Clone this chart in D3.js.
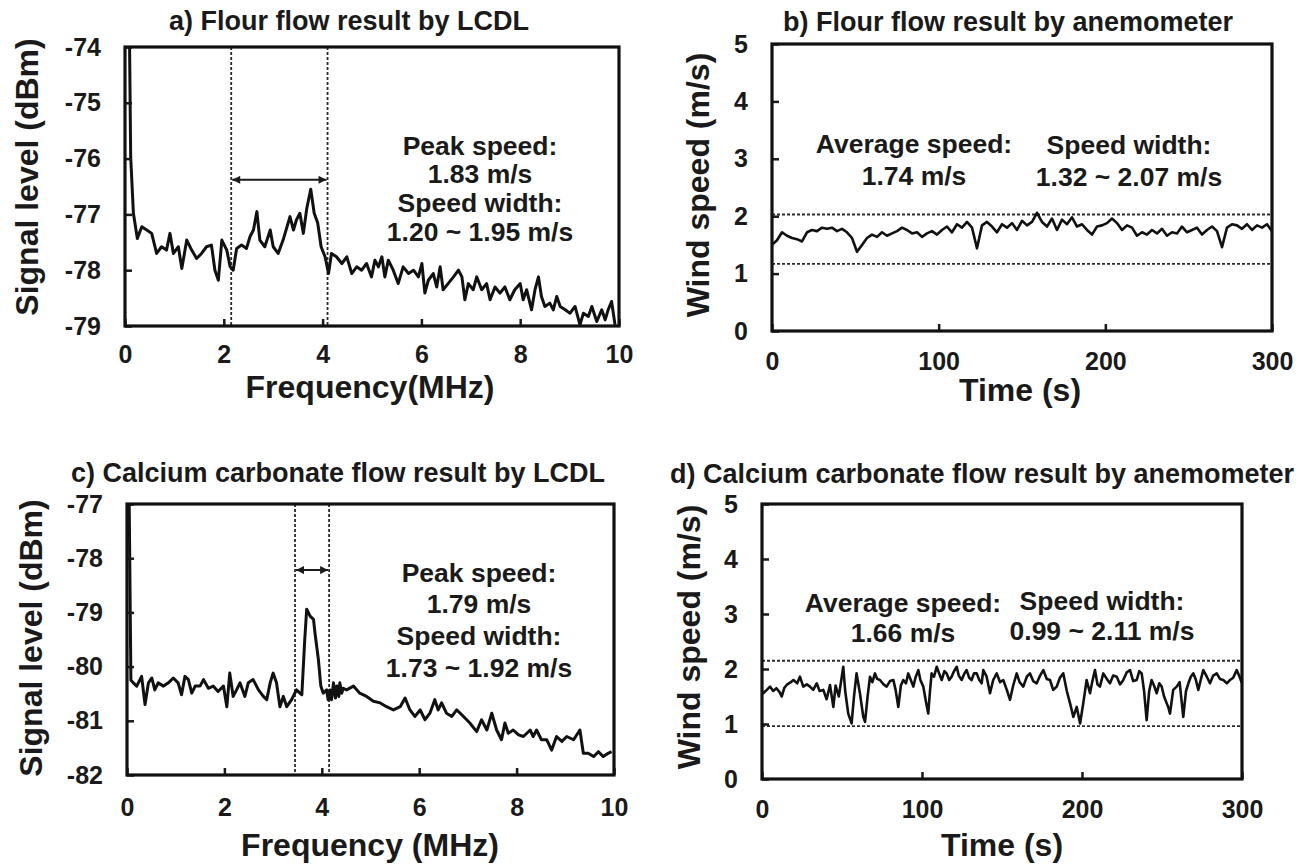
<!DOCTYPE html>
<html>
<head>
<meta charset="utf-8">
<title>LCDL and anemometer flow results</title>
<script src="https://d3js.org/d3.v7.min.js"></script>
<style>
  body { margin: 0; background: #fff; }
  text { font-family: "Liberation Sans", Arial, sans-serif; font-weight: bold; fill: #1a1a1a; }
</style>
</head>
<body>
<div id="chart"></div>
<script>
// ---- data ----
// a) flour, LCDL spectrum
var freqA = [0, 0.07, 0.115, 0.17, 0.25, 0.34, 0.44, 0.54, 0.64, 0.74,
  0.84, 0.91, 0.98, 1.08, 1.15, 1.25, 1.35, 1.45, 1.55, 1.65,
  1.75, 1.82, 1.89, 1.96, 2.06, 2.13, 2.19, 2.26, 2.36, 2.46,
  2.53, 2.60, 2.67, 2.73, 2.83, 2.94, 3.00, 3.10, 3.20, 3.34,
  3.41, 3.47, 3.54, 3.61, 3.68, 3.76, 3.83, 3.90, 3.97, 4.05,
  4.12, 4.18, 4.28, 4.39, 4.49, 4.59, 4.69, 4.79, 4.89, 4.99,
  5.06, 5.13, 5.20, 5.26, 5.33, 5.43, 5.53, 5.63, 5.74, 5.84,
  5.94, 6.01, 6.07, 6.14, 6.24, 6.31, 6.38, 6.44, 6.54, 6.65,
  6.75, 6.82, 6.88, 6.95, 7.05, 7.12, 7.22, 7.32, 7.39, 7.49,
  7.59, 7.69, 7.79, 7.89, 8.00, 8.06, 8.13, 8.23, 8.30, 8.37,
  8.43, 8.50, 8.60, 8.67, 8.74, 8.81, 8.91, 9.01, 9.11, 9.21,
  9.28, 9.38, 9.45, 9.55, 9.65, 9.72, 9.78, 9.85, 9.92];
var levelA = [-72, -72, -75.97, -76.98, -77.43, -77.22, -77.28, -77.34, -77.70, -77.58,
  -77.64, -77.34, -77.70, -77.58, -77.97, -77.46, -77.64, -77.79, -77.70, -77.58,
  -77.55, -78.00, -78.18, -77.46, -77.64, -77.94, -78.00, -77.61, -77.55, -77.61,
  -77.40, -77.28, -76.95, -77.46, -77.58, -77.28, -77.58, -77.70, -77.46, -77.04,
  -77.28, -77.10, -76.98, -77.34, -76.89, -76.55, -76.98, -77.15, -77.58, -77.76,
  -78.06, -77.70, -77.76, -77.88, -77.76, -78.06, -77.94, -78.00, -77.88, -78.12,
  -77.82, -77.94, -77.76, -78.12, -77.82, -78.00, -78.24, -77.94, -78.06, -78.00,
  -78.12, -77.88, -78.41, -78.18, -78.06, -78.30, -77.94, -78.35, -78.24, -78.12,
  -78.00, -78.12, -78.53, -78.24, -78.35, -78.12, -78.35, -78.24, -78.53, -78.30,
  -78.41, -78.30, -78.53, -78.35, -78.24, -78.53, -78.35, -78.71, -78.35, -78.12,
  -78.47, -78.65, -78.59, -78.71, -78.47, -78.65, -78.71, -78.77, -78.65, -78.98,
  -78.77, -78.83, -78.65, -78.92, -78.71, -78.89, -78.71, -78.56, -78.98];

// b) flour, anemometer
var timeB = [0, 3, 6, 9, 12, 15, 18, 21, 24, 27, 30, 33, 36, 39, 42, 45, 48, 51, 54, 57,
  60, 63, 66, 69, 72, 75, 78, 81, 84, 87, 90, 93, 96, 99, 102, 105, 108, 111, 114, 117,
  120, 123, 126, 129, 132, 135, 138, 141, 144, 147, 150, 153, 156, 159, 162, 165, 168, 171, 174, 177,
  180, 183, 186, 189, 192, 195, 198, 201, 204, 207, 210, 213, 216, 219, 222, 225, 228, 231, 234, 237,
  240, 243, 246, 249, 252, 255, 258, 261, 264, 267, 270, 273, 276, 279, 282, 285, 288, 291, 294, 297, 300];
var speedB = [1.50, 1.58, 1.72, 1.66, 1.62, 1.60, 1.56, 1.72, 1.76, 1.74,
  1.80, 1.78, 1.80, 1.74, 1.78, 1.72, 1.62, 1.38, 1.50, 1.62,
  1.68, 1.64, 1.72, 1.66, 1.70, 1.74, 1.80, 1.76, 1.70, 1.72,
  1.64, 1.70, 1.74, 1.68, 1.76, 1.82, 1.72, 1.86, 1.80, 1.90,
  1.80, 1.44, 1.84, 1.90, 1.82, 1.72, 1.86, 1.80, 1.88, 1.76,
  1.92, 1.84, 1.90, 2.06, 1.90, 1.82, 1.96, 1.76, 1.94, 1.86,
  1.98, 1.82, 1.86, 1.76, 1.68, 1.82, 1.84, 1.88, 1.96, 1.88,
  1.76, 1.84, 1.80, 1.66, 1.72, 1.68, 1.76, 1.70, 1.78, 1.66,
  1.72, 1.70, 1.82, 1.72, 1.76, 1.80, 1.68, 1.76, 1.82, 1.74,
  1.46, 1.80, 1.86, 1.84, 1.78, 1.86, 1.76, 1.84, 1.80, 1.86,
  1.74];

// c) calcium carbonate, LCDL spectrum
var freqC = [0, 0.04, 0.08, 0.13, 0.20, 0.30, 0.37, 0.44, 0.51, 0.57,
  0.64, 0.75, 0.85, 0.95, 1.05, 1.12, 1.19, 1.26, 1.33, 1.40,
  1.50, 1.57, 1.67, 1.77, 1.87, 1.98, 2.05, 2.11, 2.18, 2.25,
  2.32, 2.42, 2.49, 2.59, 2.70, 2.80, 2.87, 2.94, 3.00, 3.07,
  3.14, 3.21, 3.28, 3.38, 3.48, 3.59, 3.65, 3.69, 3.76, 3.83,
  3.86, 3.93, 3.98, 4.03, 4.10, 4.13, 4.17, 4.20, 4.24, 4.28,
  4.31, 4.35, 4.37, 4.41, 4.44, 4.51, 4.65, 4.78, 4.92, 5.06,
  5.20, 5.33, 5.47, 5.61, 5.71, 5.81, 5.91, 6.02, 6.12, 6.22,
  6.32, 6.39, 6.46, 6.56, 6.67, 6.77, 6.91, 7.04, 7.18, 7.28,
  7.39, 7.49, 7.59, 7.69, 7.76, 7.83, 7.93, 8.04, 8.14, 8.28,
  8.34, 8.41, 8.51, 8.62, 8.72, 8.82, 8.93, 9.03, 9.17, 9.30,
  9.37, 9.47, 9.58, 9.68, 9.78, 9.88, 9.95];
var levelC = [-76.5, -76.5, -80.25, -80.30, -80.36, -80.18, -80.70, -80.30, -80.21, -80.43,
  -80.30, -80.36, -80.30, -80.21, -80.30, -80.52, -80.18, -80.24, -80.49, -80.36,
  -80.36, -80.24, -80.40, -80.36, -80.46, -80.36, -80.74, -80.12, -80.55, -80.43,
  -80.30, -80.55, -80.30, -80.24, -80.43, -80.55, -80.61, -80.30, -80.12, -80.30,
  -80.74, -80.55, -80.74, -80.61, -80.43, -80.52, -79.50, -78.94, -79.07, -79.13,
  -79.38, -79.87, -80.36, -80.49, -80.43, -80.61, -80.43, -80.61, -80.30, -80.58,
  -80.36, -80.55, -80.30, -80.49, -80.40, -80.43, -80.36, -80.49, -80.55, -80.64,
  -80.67, -80.74, -80.80, -80.74, -80.58, -80.80, -80.92, -80.80, -80.98, -80.86,
  -80.61, -80.80, -80.67, -80.86, -80.92, -80.80, -80.92, -81.04, -81.20, -80.98,
  -81.17, -80.86, -81.17, -81.35, -81.04, -81.23, -81.17, -81.26, -81.29, -81.17,
  -81.29, -81.17, -81.35, -81.35, -81.54, -81.29, -81.38, -81.29, -81.35, -81.17,
  -81.60, -81.60, -81.66, -81.57, -81.66, -81.60, -81.57];

// d) calcium carbonate, anemometer
var timeD = [0, 0.8, 3, 5, 7, 9, 11, 12.3, 14, 15.4,
  18, 19.6, 22, 23.7, 25.8, 28, 30, 32, 34.2, 36,
  38.3, 40.4, 42.5, 44.6, 46, 48, 50.8, 52, 53.9, 56,
  57.5, 59.1, 61.2, 63.3, 64.4, 66, 67.5, 69, 70.6, 72,
  73.7, 76, 77.9, 80, 82.1, 83.5, 85.2, 86.8, 88.3, 90,
  91.4, 93, 94.6, 96, 97.7, 99, 100.8, 102.5, 103.9, 105,
  106, 107.5, 109.2, 110.7, 112.3, 114, 115.4, 117, 118.5, 120,
  121.7, 123, 124.8, 126.5, 127.9, 129.5, 131, 132.5, 134.2, 135.8,
  137.3, 138.3, 140.4, 142.5, 144.5, 146.7, 148.8, 150.8, 153, 155,
  157, 159.2, 161, 163.3, 165.5, 167.5, 169.5, 171.7, 173.8, 175.8,
  178, 180, 182, 184.2, 186.2, 188.3, 190.5, 192.5, 194.6, 196.7,
  198.8, 200.8, 202.9, 205, 206.5, 208.1, 209.7, 211.2, 213.3, 215.5,
  217.5, 219.5, 221.7, 223.8, 225.8, 228, 230, 232, 234.2, 235.8,
  237.3, 238.8, 240.4, 242, 243.5, 245, 246.7, 248.3, 249.8, 251.3,
  252.9, 254, 255, 257, 259.2, 261, 263.3, 265, 266.5, 268,
  269.6, 271, 272.7, 274.2, 275.8, 278, 280, 282, 284.2, 286.2,
  288.3, 290.5, 292.5, 294.5, 296.7, 298.5, 300];
var speedD = [1.60, 1.56, 1.62, 1.68, 1.60, 1.65, 1.58, 1.50, 1.66, 1.71,
  1.76, 1.80, 1.74, 1.86, 1.68, 1.72, 1.68, 1.62, 1.74, 1.60,
  1.62, 1.45, 1.71, 1.31, 1.70, 1.50, 2.04, 1.60, 1.19, 1.01,
  1.50, 1.92, 1.56, 1.13, 1.04, 1.50, 1.86, 1.76, 1.92, 1.82,
  1.80, 1.72, 1.68, 1.78, 1.80, 1.62, 1.31, 1.70, 1.80, 1.74,
  1.92, 1.80, 1.68, 1.85, 1.98, 1.80, 1.68, 1.40, 1.19, 1.60,
  1.92, 1.86, 2.04, 1.92, 1.80, 1.96, 1.92, 1.80, 1.86, 1.96,
  2.04, 1.88, 1.80, 1.92, 1.98, 1.84, 1.80, 1.92, 1.92, 1.80,
  1.74, 1.98, 1.86, 1.56, 1.80, 1.92, 1.76, 1.80, 1.62, 1.44,
  1.70, 1.92, 1.76, 1.68, 1.86, 1.92, 1.78, 1.74, 1.88, 1.98,
  1.82, 1.80, 1.62, 1.68, 1.84, 1.92, 1.60, 1.38, 1.13, 1.31,
  1.01, 1.38, 1.80, 1.56, 1.78, 1.98, 1.72, 1.68, 1.92, 1.82,
  1.74, 1.88, 1.86, 1.72, 1.80, 1.94, 1.98, 1.78, 1.80, 1.96,
  1.92, 1.60, 1.07, 1.60, 1.80, 1.70, 1.56, 1.74, 1.68, 1.50,
  1.38, 1.30, 1.19, 1.62, 1.68, 1.76, 1.13, 1.60, 1.74, 1.86,
  1.92, 1.82, 1.62, 1.80, 1.98, 1.86, 1.74, 1.88, 1.92, 1.82,
  1.80, 1.74, 1.80, 1.84, 1.98, 1.86, 1.74];

// dashed band limits and arrow levels
var bandA = [2.15, 4.1], arrowA = -76.38;
var bandC = [3.45, 4.15], arrowC = -78.22;
var bandB = [2.03, 1.17];
var bandD = [2.15, 0.96];

// tick values
var freqTicks = [0, 2, 4, 6, 8, 10];
var timeTicks = [0, 100, 200, 300];
var speedTicks = [0, 1, 2, 3, 4, 5];
var levelTicksA = [-79, -78, -77, -76, -75, -74];
var levelTicksC = [-82, -81, -80, -79, -78, -77];

var svg = d3.select("#chart").append("svg")
    .attr("width", 1309)
    .attr("height", 868);

var defs = svg.append("defs");
["start", "end"].forEach(function (k) {
    defs.append("marker")
        .attr("id", "arrow-" + k)
        .attr("viewBox", "0 0 10 10")
        .attr("refX", k == "end" ? 10 : 0).attr("refY", 5)
        .attr("markerWidth", 10).attr("markerHeight", 8)
        .attr("markerUnits", "userSpaceOnUse")
        .attr("orient", "auto")
        .append("path")
        .attr("d", k == "end" ? "M0,0L10,5L0,10Z" : "M10,0L0,5L10,10Z")
        .attr("fill", "#1a1a1a");
});

function drawPanel(p) {
    var x = d3.scaleLinear().domain(p.xDomain).range([p.left, p.right]);
    var y = d3.scaleLinear().domain(p.yDomain).range([p.bottom, p.top]);
    var g = svg.append("g");

    defs.append("clipPath").attr("id", "clip-" + p.id)
        .append("rect")
        .attr("x", p.left).attr("y", p.top)
        .attr("width", p.right - p.left).attr("height", p.bottom - p.top);

    // dashed limits
    if (p.vband) {
        g.selectAll(".vband").data(p.vband).enter().append("line")
            .attr("x1", d => x(d)).attr("x2", d => x(d))
            .attr("y1", p.top).attr("y2", p.bottom)
            .attr("stroke", "#2a2a2a").attr("stroke-width", 1.8)
            .attr("stroke-dasharray", "3,2");
        g.append("line")
            .attr("x1", x(p.vband[0]) + 1).attr("x2", x(p.vband[1]) - 1)
            .attr("y1", y(p.arrow)).attr("y2", y(p.arrow))
            .attr("stroke", "#1a1a1a").attr("stroke-width", 2)
            .attr("marker-start", "url(#arrow-start)")
            .attr("marker-end", "url(#arrow-end)");
    }
    if (p.hband) {
        g.selectAll(".hband").data(p.hband).enter().append("line")
            .attr("x1", p.left).attr("x2", p.right)
            .attr("y1", d => y(d)).attr("y2", d => y(d))
            .attr("stroke", "#2a2a2a").attr("stroke-width", 1.8)
            .attr("stroke-dasharray", "3,2");
    }

    // data trace
    var line = d3.line().x(d => x(d[0])).y(d => y(d[1]));
    g.append("path")
        .datum(d3.zip(p.xs, p.ys))
        .attr("clip-path", "url(#clip-" + p.id + ")")
        .attr("d", line)
        .attr("fill", "none")
        .attr("stroke", "#111")
        .attr("stroke-width", p.lw)
        .attr("stroke-linejoin", "round");

    // axes with inward ticks
    var xAxis = g.append("g")
        .attr("transform", "translate(0," + p.bottom + ")")
        .call(d3.axisBottom(x).tickValues(p.xTicks).tickFormat(d => String(d))
            .tickSizeInner(-7).tickSizeOuter(0).tickPadding(p.xPad));
    var yAxis = g.append("g")
        .attr("transform", "translate(" + p.left + ",0)")
        .call(d3.axisLeft(y).tickValues(p.yTicks).tickFormat(d => String(d))
            .tickSizeInner(-7).tickSizeOuter(0).tickPadding(p.yPad));
    [xAxis, yAxis].forEach(function (a) {
        a.select(".domain").remove();
        a.attr("font-size", 25).attr("color", "#1a1a1a");
        a.selectAll("line").attr("stroke-width", 2.5);
    });

    // frame
    g.append("rect")
        .attr("x", p.left).attr("y", p.top)
        .attr("width", p.right - p.left).attr("height", p.bottom - p.top)
        .attr("fill", "none").attr("stroke", "#111").attr("stroke-width", 3.2);

    // titles
    svg.append("text").attr("x", p.title[1]).attr("y", p.title[2])
        .attr("text-anchor", "middle").attr("font-size", 27).text(p.title[0]);
    svg.append("text").attr("x", p.xLabel[1]).attr("y", p.xLabel[2])
        .attr("text-anchor", "middle").attr("font-size", 32).text(p.xLabel[0]);
    svg.append("text")
        .attr("transform", "translate(" + p.yLabel[1] + "," + p.yLabel[2] + ") rotate(-90)")
        .attr("text-anchor", "middle").attr("font-size", 32).text(p.yLabel[0]);

    // annotations
    p.notes.forEach(function (n) {
        svg.append("text").attr("x", n[1]).attr("y", n[2])
            .attr("text-anchor", "middle").attr("font-size", 26.5).text(n[0]);
    });
}

drawPanel({
    id: "a", left: 125, right: 619, top: 47, bottom: 326,
    xDomain: [0, 10], yDomain: [-79, -74], xTicks: freqTicks, yTicks: levelTicksA,
    xPad: 19, yPad: 24, xs: freqA, ys: levelA, lw: 3,
    vband: bandA, arrow: arrowA,
    title: ["a) Flour flow result by LCDL", 349, 30],
    xLabel: ["Frequency(MHz)", 370, 398],
    yLabel: ["Signal level (dBm)", 38, 177],
    notes: [["Peak speed:", 480, 155], ["1.83 m/s", 480, 183],
            ["Speed width:", 480, 212], ["1.20 ~ 1.95 m/s", 480, 241]]
});

drawPanel({
    id: "b", left: 772, right: 1272, top: 44, bottom: 331,
    xDomain: [0, 300], yDomain: [0, 5], xTicks: timeTicks, yTicks: speedTicks,
    xPad: 21, yPad: 24, xs: timeB, ys: speedB, lw: 2.6,
    hband: bandB,
    title: ["b) Flour flow result by anemometer", 1008, 31],
    xLabel: ["Time (s)", 1020, 401],
    yLabel: ["Wind speed (m/s)", 709, 185],
    notes: [["Average speed:", 914, 153], ["1.74 m/s", 914, 185],
            ["Speed width:", 1129, 154], ["1.32 ~ 2.07 m/s", 1129, 186]]
});

drawPanel({
    id: "c", left: 127, right: 614, top: 504, bottom: 775,
    xDomain: [0, 10], yDomain: [-82, -77], xTicks: freqTicks, yTicks: levelTicksC,
    xPad: 23, yPad: 24, xs: freqC, ys: levelC, lw: 3,
    vband: bandC, arrow: arrowC,
    title: ["c) Calcium carbonate flow result by LCDL", 338, 482],
    xLabel: ["Frequency (MHz)", 370, 856],
    yLabel: ["Signal level (dBm)", 42, 638],
    notes: [["Peak speed:", 479, 582], ["1.79 m/s", 479, 613],
            ["Speed width:", 479, 645], ["1.73 ~ 1.92 m/s", 479, 677]]
});

drawPanel({
    id: "d", left: 762, right: 1242, top: 504, bottom: 779,
    xDomain: [0, 300], yDomain: [0, 5], xTicks: timeTicks, yTicks: speedTicks,
    xPad: 21, yPad: 24, xs: timeD, ys: speedD, lw: 2.6,
    hband: bandD,
    title: ["d) Calcium carbonate flow result by anemometer", 982, 483],
    xLabel: ["Time (s)", 1002, 856],
    yLabel: ["Wind speed (m/s)", 700, 637],
    notes: [["Average speed:", 903, 612], ["1.66 m/s", 903, 642],
            ["Speed width:", 1102, 610], ["0.99 ~ 2.11 m/s", 1102, 640]]
});
</script>
</body>
</html>
